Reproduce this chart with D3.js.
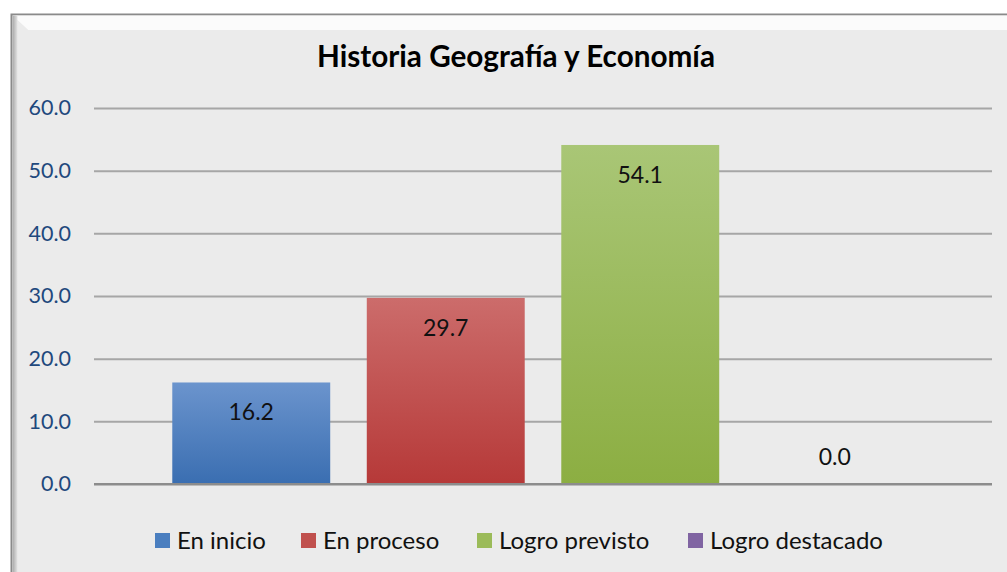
<!DOCTYPE html>
<html>
<head>
<meta charset="utf-8">
<script src="https://cdn.jsdelivr.net/npm/d3@7"></script>
<style>
  body { margin: 0; background: #fff; }
  svg { display: block; }
</style>
</head>
<body>
<svg id="chart"></svg>
<script>
'use strict';

// data
var categories = ['En inicio', 'En proceso', 'Logro previsto', 'Logro destacado'];
var values = [16.2, 29.7, 54.1, 0.0];
var yTicks = [0, 10, 20, 30, 40, 50, 60];
var title = 'Historia Geografía y Economía';

var topColors = ['#6b94cd', '#cc6c6b', '#a9c676', '#9378b3'];
var bottomColors = ['#3a6eb1', '#b63938', '#8cae42', '#7559a0'];
var legendColors = ['#4a7ebf', '#c0504d', '#9bbb59', '#8064a2'];

var width = 1007, height = 572;
var svg = d3.select('#chart').attr('width', width).attr('height', height);
var font = 'Lato, "Open Sans", sans-serif';

var defs = svg.append('defs');
categories.forEach(function(c, i) {
	var lg = defs.append('linearGradient').attr('id', 'g' + i)
		.attr('x1', 0).attr('y1', 0).attr('x2', 0).attr('y2', 1);
	lg.append('stop').attr('offset', '0%').attr('stop-color', topColors[i]);
	lg.append('stop').attr('offset', '100%').attr('stop-color', bottomColors[i]);
});
var sh = defs.append('linearGradient').attr('id', 'leftShade')
	.attr('x1', 0).attr('y1', 0).attr('x2', 1).attr('y2', 0);
sh.append('stop').attr('offset', '0%').attr('stop-color', '#a8a8a8');
sh.append('stop').attr('offset', '100%').attr('stop-color', '#e4e4e4');

// frame with bevel
svg.append('rect').attr('x', 11.5).attr('y', 14.5).attr('width', 1000).attr('height', 570)
	.attr('fill', '#ebebeb').attr('stroke', '#8a8a8a').attr('stroke-width', 2);
svg.append('path').attr('d', 'M12.5,15.5 L1007,15.5 L1007,30 L28,30 Z').attr('fill', '#fbfbfb');
svg.append('path').attr('d', 'M12.5,15.5 L28,30 L28,572 L12.5,572 Z').attr('fill', '#ebebeb');
svg.append('rect').attr('x', 12.5).attr('y', 15.5).attr('width', 5).attr('height', 560)
	.attr('fill', 'url(#leftShade)');

var y = d3.scaleLinear().domain([0, 60]).range([484, 108]);
var x = d3.scaleBand().domain(categories).range([154, 932]).paddingInner(0.188).paddingOuter(0.094);

var gridLeft = 94, gridRight = 992;

var gAxis = svg.append('g').attr('transform', 'translate(' + gridLeft + ',0)')
	.call(d3.axisLeft(y).tickValues(yTicks).tickSize(-(gridRight - gridLeft)).tickPadding(23)
		.tickFormat(d3.format('.1f')));
gAxis.select('.domain').remove();
gAxis.selectAll('.tick line').attr('stroke', '#a6a6a6').attr('stroke-width', 2);
gAxis.selectAll('.tick').filter(function(d) { return d === 0; }).select('line').attr('stroke', '#8c8c8c');
gAxis.selectAll('.tick text').attr('fill', '#1f497d').style('font-family', font).style('font-size', '21.5px');

// bars
svg.append('g').selectAll('rect').data(values).join('rect')
	.attr('x', function(d, i) { return x(categories[i]); })
	.attr('y', function(d) { return y(d); })
	.attr('width', x.bandwidth())
	.attr('height', function(d) { return y(0) - y(d); })
	.attr('fill', function(d, i) { return 'url(#g' + i + ')'; });

// redraw baseline above bars
svg.append('line').attr('x1', gridLeft).attr('x2', gridRight).attr('y1', y(0)).attr('y2', y(0))
	.attr('stroke', '#8c8c8c').attr('stroke-width', 2);

// value labels (inside end; a zero bar gets its label above the baseline)
svg.append('g').selectAll('text').data(values).join('text')
	.attr('x', function(d, i) { return x(categories[i]) + x.bandwidth() / 2; })
	.attr('y', function(d) { return d > 0 ? y(d) + 38 : y(d) - 19; })
	.attr('text-anchor', 'middle')
	.style('font-family', font).style('font-size', '23px').attr('fill', '#111')
	.text(function(d) { return d3.format('.1f')(d); });

// title
svg.append('text').attr('x', 516).attr('y', 67).attr('text-anchor', 'middle')
	.style('font-family', font).style('font-weight', 'bold').style('font-size', '29.7px').attr('fill', '#000')
	.text(title);

// legend
var legendX = [155, 301, 477, 688];
var leg = svg.append('g').selectAll('g').data(categories).join('g')
	.attr('transform', function(d, i) { return 'translate(' + legendX[i] + ',533)'; });
leg.append('rect').attr('width', 15).attr('height', 15).attr('fill', function(d, i) { return legendColors[i]; });
leg.append('text').attr('x', 22).attr('y', 16)
	.style('font-family', font).style('font-size', '24px').attr('fill', '#111')
	.text(function(d) { return d; });
</script>
</body>
</html>
